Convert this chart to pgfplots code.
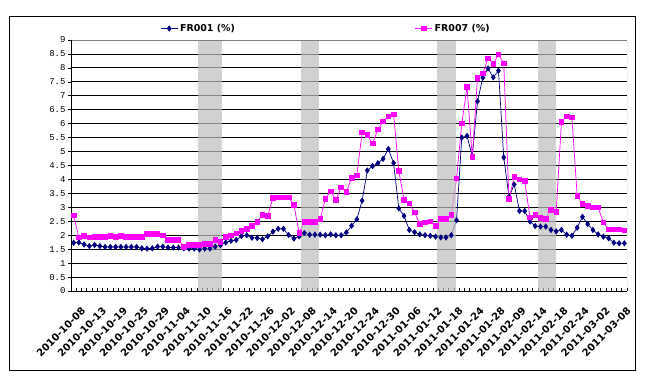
\documentclass[border=0pt]{standalone}
\usepackage{fontspec}
\setmainfont{Liberation Sans}
\newfontfamily\monof{Liberation Mono}
\newfontfamily\boldf{DejaVu Sans}
\usepackage{pgfplots}
\pgfplotsset{compat=1.18}
\definecolor{fr1}{RGB}{0,0,128}
\definecolor{fr7}{RGB}{255,0,255}
\definecolor{band}{RGB}{190,190,190}
\begin{document}
\begin{tikzpicture}
\begin{axis}[
  name=ax,
  scale only axis,
  width=556bp, height=251bp,
  xmin=-0.5, xmax=105.5,
  ymin=0, ymax=9,
  axis line style={draw=none},
  /pgf/number format/assume math mode=true,
  ytick={0,0.5,...,8.5},
  extra y ticks={9},
  extra y tick style={grid=none},
  ymajorgrids,
  major grid style={black, line width=0.8bp},
  ytick pos=left,
  ytick align=outside,
  yticklabel style={font=\monof\fontsize{9}{9}\selectfont, xshift=1bp},
  xtick={-0.5,0.5,...,105.5},
  xticklabels={},
  xtick pos=bottom,
  xtick align=inside,
  major tick length=3bp,
  tick style={black, line width=0.6bp},
  extra x ticks={0,4,...,104},
  extra x tick labels={2010-10-08,2010-10-13,2010-10-19,2010-10-25,2010-10-29,2010-11-04,2010-11-10,2010-11-16,2010-11-22,2010-11-26,2010-12-02,2010-12-08,2010-12-14,2010-12-20,2010-12-24,2010-12-30,2011-01-06,2011-01-12,2011-01-18,2011-01-24,2011-01-28,2011-02-09,2011-02-14,2011-02-18,2011-02-24,2011-03-02,2011-03-08},
  extra x tick style={major tick length=0pt, xmajorgrids=false,
    xticklabel style={rotate=45, anchor=east, font=\boldf\bfseries\fontsize{10}{10}\selectfont, inner sep=0pt, xshift=-6bp, yshift=-20bp}},
  legend style={at={(0.155,1.012)}, anchor=south west, draw=none, fill=none,
    font=\boldf\bfseries\fontsize{9.5}{10}\selectfont, legend columns=2,
    /tikz/every even column/.append style={column sep=178bp}},
  legend cell align=left,
]
\addplot[fr1, line width=0.7bp, mark=diamond*, mark size=2.6bp, mark options={fill=fr1, solid}] coordinates {
(0,1.73) (1,1.74) (2,1.67) (3,1.61) (4,1.65) (5,1.61) (6,1.58) (7,1.58) (8,1.58) (9,1.58)
(10,1.58) (11,1.58) (12,1.58) (13,1.53) (14,1.52) (15,1.53) (16,1.59) (17,1.59) (18,1.56) (19,1.56)
(20,1.56) (21,1.53) (22,1.52) (23,1.52) (24,1.49) (25,1.52) (26,1.52) (27,1.59) (28,1.64) (29,1.74)
(30,1.80) (31,1.83) (32,1.97) (33,2.00) (34,1.91) (35,1.90) (36,1.86) (37,1.96) (38,2.13) (39,2.23)
(40,2.23) (41,2.01) (42,1.88) (43,1.96) (44,2.08) (45,2.02) (46,2.02) (47,2.02) (48,2.00) (49,2.03)
(50,2.00) (51,2.00) (52,2.10) (53,2.34) (54,2.57) (55,3.24) (56,4.32) (57,4.48) (58,4.58) (59,4.74)
(60,5.09) (61,4.59) (62,2.96) (63,2.69) (64,2.19) (65,2.11) (66,2.03) (67,2.00) (68,1.98) (69,1.95)
(70,1.92) (71,1.92) (72,2.00) (73,2.54) (74,5.50) (75,5.56) (76,4.84) (77,6.80) (78,7.65) (79,7.98)
(80,7.66) (81,7.90) (82,4.79) (83,3.38) (84,3.82) (85,2.87) (86,2.87) (87,2.49) (88,2.33) (89,2.31)
(90,2.31) (91,2.19) (92,2.14) (93,2.19) (94,2.02) (95,1.98) (96,2.27) (97,2.66) (98,2.40) (99,2.19)
(100,2.03) (101,1.95) (102,1.89) (103,1.73) (104,1.71) (105,1.71)
};
\addlegendentry{FR001 (\%)}
\addplot[fr7, line width=0.7bp, mark=square*, mark size=2.3bp, mark options={fill=fr7, solid}] coordinates {
(0,2.71) (1,1.92) (2,1.97) (3,1.92) (4,1.95) (5,1.95) (6,1.95) (7,1.98) (8,1.95) (9,1.97)
(10,1.95) (11,1.95) (12,1.95) (13,1.95) (14,2.04) (15,2.04) (16,2.04) (17,1.99) (18,1.83) (19,1.83)
(20,1.83) (21,1.59) (22,1.65) (23,1.65) (24,1.65) (25,1.68) (26,1.68) (27,1.83) (28,1.76) (29,1.95)
(30,2.00) (31,2.07) (32,2.15) (33,2.22) (34,2.34) (35,2.47) (36,2.72) (37,2.69) (38,3.33) (39,3.36)
(40,3.36) (41,3.36) (42,3.09) (43,2.08) (44,2.49) (45,2.49) (46,2.49) (47,2.58) (48,3.30) (49,3.58)
(50,3.26) (51,3.72) (52,3.55) (53,4.06) (54,4.15) (55,5.69) (56,5.59) (57,5.30) (58,5.79) (59,6.08)
(60,6.26) (61,6.33) (62,4.30) (63,3.26) (64,3.15) (65,2.82) (66,2.40) (67,2.46) (68,2.50) (69,2.34)
(70,2.58) (71,2.58) (72,2.72) (73,4.04) (74,6.01) (75,7.31) (76,4.80) (77,7.65) (78,7.80) (79,8.34)
(80,8.15) (81,8.48) (82,8.17) (83,3.30) (84,4.09) (85,4.01) (86,3.94) (87,2.64) (88,2.72) (89,2.63)
(90,2.58) (91,2.92) (92,2.83) (93,6.07) (94,6.26) (95,6.22) (96,3.41) (97,3.12) (98,3.05) (99,3.00)
(100,3.00) (101,2.46) (102,2.21) (103,2.21) (104,2.21) (105,2.17)
};
\addlegendentry{FR007 (\%)}
\addplot[draw=none, fill=band, fill opacity=0.7, forget plot] coordinates {(23.66,9) (28.35,9)} \closedcycle;
\addplot[draw=none, fill=band, fill opacity=0.7, forget plot] coordinates {(43.35,9) (46.78,9)} \closedcycle;
\addplot[draw=none, fill=band, fill opacity=0.7, forget plot] coordinates {(69.34,9) (72.85,9)} \closedcycle;
\addplot[draw=none, fill=band, fill opacity=0.7, forget plot] coordinates {(88.48,9) (92.03,9)} \closedcycle;
\draw[gray, line width=0.8bp] (rel axis cs:0,1) -- (rel axis cs:1,1) -- (rel axis cs:1,0);
\draw[black, line width=0.8bp] (rel axis cs:0,1) -- (rel axis cs:0,0) -- (rel axis cs:1,0);
\end{axis}
\draw[black, line width=0.9bp] ([shift={(-62bp,-79bp)}]ax.south west) rectangle ([shift={(564bp,275bp)}]ax.south west);
\pgfresetboundingbox
\path ([shift={(-71bp,-89bp)}]ax.south west) rectangle ([shift={(580bp,291bp)}]ax.south west);
\end{tikzpicture}
\end{document}
